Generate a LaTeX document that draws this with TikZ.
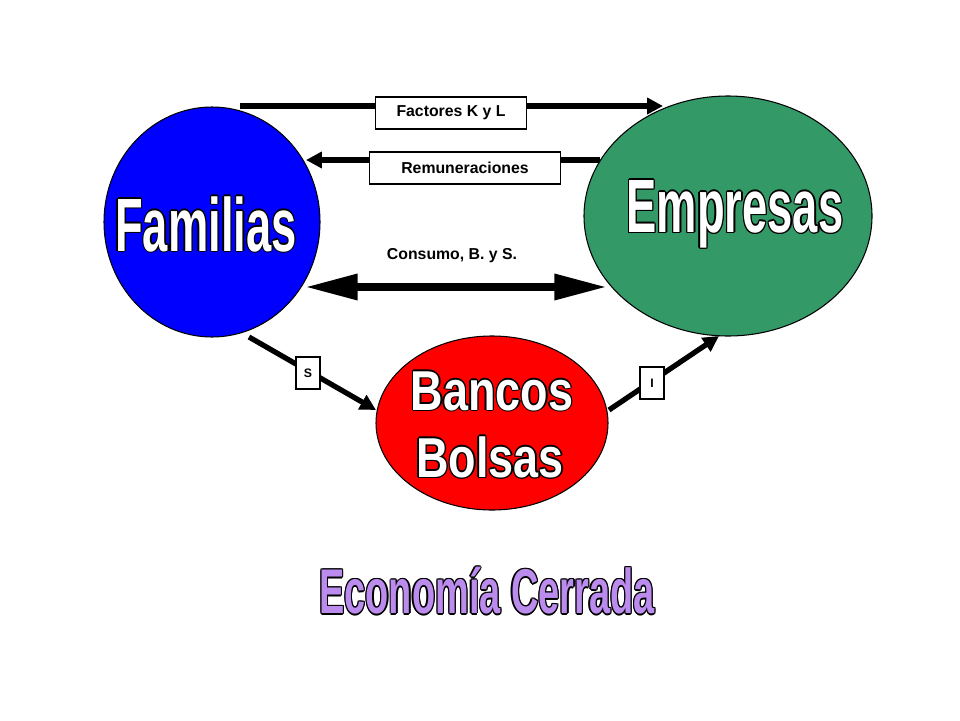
\documentclass[tikz,border=0pt]{standalone}
\usepackage{fontspec}
\setmainfont{Liberation Sans}
\newfontfamily\imp[FakeStretch=0.6]{Liberation Sans Bold}
\newfontfamily\impb[FakeStretch=0.8]{Liberation Sans Bold}
\usetikzlibrary{arrows.meta,shapes.geometric}
\definecolor{famblue}{HTML}{0000FF}
\definecolor{empgreen}{HTML}{339966}
\definecolor{econpurple}{HTML}{BB8BEE}
\tikzset{
  blob/.style={draw=black,line width=0.6pt,ellipse,inner sep=0pt},
  flow/.style={line width=3pt,-{Triangle[length=9pt,width=9pt]}},
  lbl/.style={draw=black,fill=white,line width=0.6pt,font=\bfseries\fontsize{9}{10}\selectfont,inner sep=4pt},
}
\newcommand{\outl}[4]{% pos, font, fill, text
  \foreach \dx/\dy in {1.3/0,-1.3/0,0/1.3,0/-1.3,0.9/0.9,-0.9/0.9,0.9/-0.9,-0.9/-0.9}{
    \node[font=#2,text=black,align=center] at ([shift={(\dx*0.02cm,\dy*0.02cm)}]#1) {#4};}
  \node[font=#2,text=#3,align=center] at (#1) {#4};}
\begin{document}
\begin{tikzpicture}[x=0.02cm,y=-0.02cm]
\useasboundingbox (0,0) rectangle (960,720);
\node[blob,fill=famblue,minimum width=216*0.02cm,minimum height=230*0.02cm] (fam) at (212,222) {};
\node[blob,fill=empgreen,minimum width=288*0.02cm,minimum height=240*0.02cm] (emp) at (728,216) {};
\node[blob,fill=red,minimum width=232*0.02cm,minimum height=174*0.02cm] (ban) at (492,423) {};
\coordinate (fA) at (240,106); \coordinate (eA) at (663,106);
\coordinate (eB) at (600,160); \coordinate (fB) at (306,160);
\coordinate (fC) at (305,287); \coordinate (eC) at (607,287);
\coordinate (fS) at (249,337); \coordinate (bS) at (376,410);
\coordinate (bI) at (609,410); \coordinate (eI) at (719,336);
\draw[flow] (fA) -- (eA);
\draw[flow] (eB) -- (fB);
\draw[line width=4.5pt,{Stealth[length=30pt,width=14pt,inset=0pt]}-{Stealth[length=30pt,width=14pt,inset=0pt]}] (fC) -- (eC);
\draw[flow] (fS) -- (bS);
\draw[flow] (bI) -- (eI);
\node[lbl,minimum width=151*0.02cm,minimum height=32*0.02cm] (lf) at (451,113) {Factores K y L};
\node[lbl,minimum width=191*0.02cm,minimum height=32*0.02cm,anchor=west] (lr) at (369,168) {Remuneraciones};
\node[font=\bfseries\fontsize{9}{10}\selectfont] (lc) at (452,256) {Consumo, B. y S.};
\node[lbl,minimum width=24*0.02cm,minimum height=32*0.02cm,inner sep=1pt,font=\bfseries\fontsize{7}{8}\selectfont] (ls) at (308,373) {S};
\node[lbl,minimum width=24*0.02cm,minimum height=32*0.02cm,inner sep=1pt,font=\bfseries\fontsize{7}{8}\selectfont] (li) at (652,383) {I};
\coordinate (tf) at (206,224);
\coordinate (te) at (735,214);
\coordinate (tb1) at (492,391);
\coordinate (tb2) at (490,457);
\coordinate (tec) at (487,591);
\outl{tf}{\imp\fontsize{43}{43}\selectfont}{white}{Familias}
\outl{te}{\imp\fontsize{43}{43}\selectfont}{white}{Empresas}
\outl{tb1}{\impb\fontsize{32}{32}\selectfont}{white}{Bancos}
\outl{tb2}{\impb\fontsize{32}{32}\selectfont}{white}{Bolsas}
\outl{tec}{\imp\fontsize{36}{36}\selectfont}{econpurple}{Economía Cerrada}
\end{tikzpicture}
\end{document}
